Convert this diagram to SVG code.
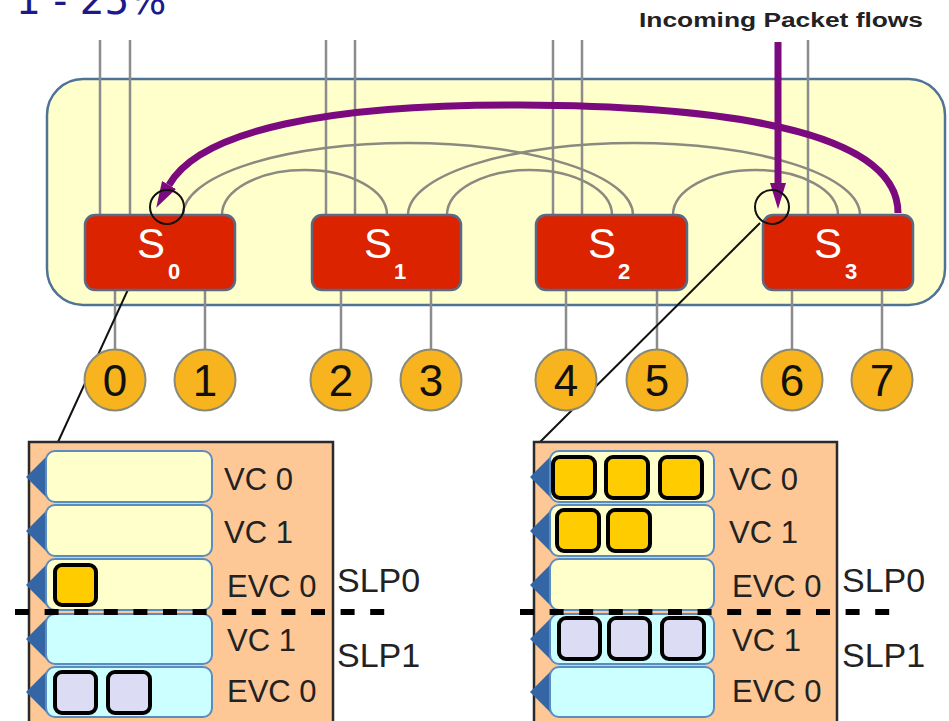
<svg xmlns="http://www.w3.org/2000/svg" width="949" height="721" viewBox="0 0 949 721">
<defs>
<style>
.port{stroke:#8c8c8c;stroke-width:2.5;fill:none}
.arc{stroke:#8a8a80;stroke-width:2.5;fill:none}
.sw{fill:#dc2300;stroke:#5a6a85;stroke-width:2.5}
.swt{font-family:"Liberation Sans",Arial,sans-serif;fill:#ffffff}
.pc{fill:#f7b41e;stroke:#8a8a7a;stroke-width:2}
.pt{font-family:"Liberation Sans",Arial,sans-serif;font-size:44px;fill:#111;text-anchor:middle}
.buf{fill:#fdc896;stroke:#2a2a2a;stroke-width:2.5}
.ry{fill:#ffffcc;stroke:#5b8cc0;stroke-width:2}
.rc{fill:#ccffff;stroke:#5b8cc0;stroke-width:2}
.tri{fill:#3465a4}
.lbl{font-family:"Liberation Sans",Arial,sans-serif;font-size:31px;fill:#222}
.slp{font-family:"Liberation Sans",Arial,sans-serif;font-size:34px;fill:#222}
.pk{fill:#ffcc00;stroke:#000;stroke-width:4}
.pl{fill:#dcdcf5;stroke:#000;stroke-width:4}
.dash{stroke:#000;stroke-width:6;stroke-dasharray:14 15.6}
.purple{stroke:#7b0a7e;stroke-width:7;fill:none}
.zoomc{fill:none;stroke:#111;stroke-width:2}
.zl{stroke:#111;stroke-width:2}
</style>
<marker id="pa" markerUnits="userSpaceOnUse" markerWidth="26" markerHeight="16" refX="0" refY="8" orient="auto" viewBox="0 0 26 16">
<path d="M0,0 L26,8 L0,16 z" fill="#7b0a7e"/>
</marker>
</defs>

<text x="16" y="14" font-family="DejaVu Sans, sans-serif" font-size="39" fill="#1a1a8c">1 - 25%</text>
<text x="639" y="27" font-family="Liberation Sans, Arial, sans-serif" font-weight="bold" font-size="20" fill="#222" textLength="284" lengthAdjust="spacingAndGlyphs">Incoming Packet flows</text>

<g id="network">
<rect x="47" y="79" width="898" height="226" rx="36" fill="#ffffcc" stroke="#4f7396" stroke-width="2.5"/>
</g>

<g id="connectors">
<path class="port" d="M100,40V215M130,40V215M326,40V215M355,40V215M553,40V215M582,40V215M808,40V215"/>
<path class="port" d="M115,290V349M205,290V349M341,290V349M431,290V349M566,290V349M657,290V349M792,290V349M882,290V349"/>
<path class="arc" d="M222,215 A82.5,45 0 0 1 387,215"/>
<path class="arc" d="M447,215 A82.5,45 0 0 1 612,215"/>
<path class="arc" d="M673,215 A82.5,45 0 0 1 838,215"/>
<path class="arc" d="M183,215 A225,72 0 0 1 633,215"/>
<path class="arc" d="M408,215 A226,72 0 0 1 860,215"/>
<path class="purple" d="M898,213 C898,140 760,106 520,105 C330,104 200,130 169,185" marker-end="url(#pa)"/>
<path class="purple" d="M778,42 V183" marker-end="url(#pa)"/>
<line class="zl" x1="159" y1="222" x2="58" y2="442"/>
<line class="zl" x1="760" y1="223" x2="540" y2="442"/>
</g>

<g id="S0">
<rect class="sw" x="85" y="215" width="150" height="75" rx="10"/>
<text class="swt" x="137" y="258" font-size="42">S</text>
<text class="swt" x="168" y="279" font-size="22" font-weight="bold">0</text>
</g>
<g id="S1">
<rect class="sw" x="312" y="215" width="149" height="75" rx="10"/>
<text class="swt" x="364" y="258" font-size="42">S</text>
<text class="swt" x="394" y="279" font-size="22" font-weight="bold">1</text>
</g>
<g id="S2">
<rect class="sw" x="536" y="215" width="151" height="75" rx="10"/>
<text class="swt" x="588" y="258" font-size="42">S</text>
<text class="swt" x="618" y="279" font-size="22" font-weight="bold">2</text>
</g>
<g id="S3">
<rect class="sw" x="763" y="215" width="150" height="75" rx="10"/>
<text class="swt" x="814" y="258" font-size="42">S</text>
<text class="swt" x="845" y="279" font-size="22" font-weight="bold">3</text>
</g>

<circle class="zoomc" cx="167" cy="207" r="17"/>
<circle class="zoomc" cx="772" cy="207" r="17"/>

<g id="P0"><circle class="pc" cx="115" cy="380" r="30.5"/><text class="pt" x="115" y="396">0</text></g>
<g id="P1"><circle class="pc" cx="205" cy="380" r="30.5"/><text class="pt" x="205" y="396">1</text></g>
<g id="P2"><circle class="pc" cx="341" cy="380" r="30.5"/><text class="pt" x="341" y="396">2</text></g>
<g id="P3"><circle class="pc" cx="431" cy="380" r="30.5"/><text class="pt" x="431" y="396">3</text></g>
<g id="P4"><circle class="pc" cx="566" cy="380" r="30.5"/><text class="pt" x="566" y="396">4</text></g>
<g id="P5"><circle class="pc" cx="657" cy="380" r="30.5"/><text class="pt" x="657" y="396">5</text></g>
<g id="P6"><circle class="pc" cx="792" cy="380" r="30.5"/><text class="pt" x="792" y="396">6</text></g>
<g id="P7"><circle class="pc" cx="882" cy="380" r="30.5"/><text class="pt" x="882" y="396">7</text></g>

<g id="bufferS0">
<rect class="buf" x="29" y="442" width="304" height="300"/>
<path class="tri" d="M26,477 L50,453 L50,501z M26,531 L50,507 L50,555z M26,585 L50,561 L50,609z M26,639 L50,615 L50,663z M26,692 L50,668 L50,716z"/>
<rect class="ry" x="46" y="451" width="166" height="51" rx="9"/>
<rect class="ry" x="46" y="505" width="166" height="51" rx="9"/>
<rect class="ry" x="46" y="559" width="166" height="51" rx="9"/>
<rect class="rc" x="46" y="614" width="166" height="50" rx="9"/>
<rect class="rc" x="46" y="667" width="166" height="50" rx="9"/>
<rect class="pk" x="55" y="565" width="41" height="40" rx="7"/>
<rect class="pl" x="55" y="672" width="41" height="41" rx="7"/>
<rect class="pl" x="108" y="672" width="42" height="41" rx="7"/>
<text class="lbl" x="224" y="490">VC 0</text>
<text class="lbl" x="224" y="543">VC 1</text>
<text class="lbl" x="227" y="597">EVC 0</text>
<text class="lbl" x="227" y="651">VC 1</text>
<text class="lbl" x="227" y="702">EVC 0</text>
<text class="slp" x="337" y="592">SLP0</text>
<text class="slp" x="337" y="667">SLP1</text>
<line class="dash" x1="15" y1="612" x2="387" y2="612"/>
</g>

<g id="bufferS3">
<rect class="buf" x="534" y="442" width="303" height="300"/>
<path class="tri" d="M530,477 L554,453 L554,501z M530,531 L554,507 L554,555z M530,585 L554,561 L554,609z M530,639 L554,615 L554,663z M530,692 L554,668 L554,716z"/>
<rect class="ry" x="550" y="451" width="164" height="51" rx="9"/>
<rect class="ry" x="550" y="505" width="164" height="51" rx="9"/>
<rect class="ry" x="550" y="559" width="164" height="51" rx="9"/>
<rect class="rc" x="550" y="614" width="164" height="50" rx="9"/>
<rect class="rc" x="550" y="667" width="164" height="50" rx="9"/>
<rect class="pk" x="553" y="457" width="42" height="41" rx="7"/>
<rect class="pk" x="606" y="457" width="42" height="41" rx="7"/>
<rect class="pk" x="660" y="457" width="42" height="41" rx="7"/>
<rect class="pk" x="557" y="510" width="42" height="41" rx="7"/>
<rect class="pk" x="608" y="510" width="42" height="41" rx="7"/>
<rect class="pl" x="559" y="618" width="41" height="41" rx="7"/>
<rect class="pl" x="609" y="618" width="41" height="41" rx="7"/>
<rect class="pl" x="662" y="618" width="42" height="41" rx="7"/>
<text class="lbl" x="729" y="490">VC 0</text>
<text class="lbl" x="729" y="543">VC 1</text>
<text class="lbl" x="732" y="597">EVC 0</text>
<text class="lbl" x="732" y="651">VC 1</text>
<text class="lbl" x="732" y="702">EVC 0</text>
<text class="slp" x="842" y="592">SLP0</text>
<text class="slp" x="842" y="667">SLP1</text>
<line class="dash" x1="520" y1="612" x2="892" y2="612"/>
</g>
</svg>
